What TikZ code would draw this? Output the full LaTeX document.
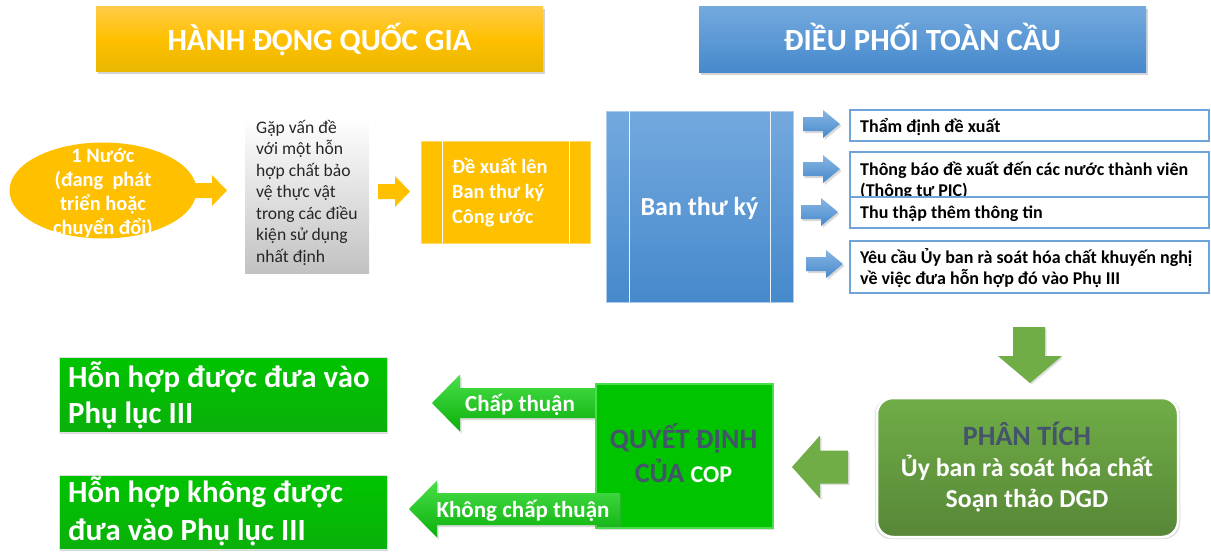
\documentclass[tikz,border=0pt]{standalone}
\usepackage{fontspec}
\setmainfont{Carlito}
\usetikzlibrary{shapes.geometric,shadows,calc}
\definecolor{gold}{HTML}{FFC000}
\definecolor{goldtop}{HTML}{FFCB48}
\definecolor{goldbot}{HTML}{E9B800}
\definecolor{bluetop}{HTML}{74A9DE}
\definecolor{bluebot}{HTML}{4689CC}
\definecolor{blueline}{HTML}{6FA4DA}
\definecolor{olive}{HTML}{70AD47}
\definecolor{bgreen}{HTML}{00C400}
\definecolor{bgreenlt}{HTML}{4ADF4A}
\definecolor{bgreendk}{HTML}{0AB00A}
\definecolor{slate}{HTML}{44546A}
\definecolor{inktext}{HTML}{262626}
\newcommand{\fs}[2]{\fontsize{#1}{#2}\selectfont}
% block arrow: style, tail, tip, shaft half width, head half width, signed head length
\newcommand{\barrow}[6]{%
  \path[#1] ($(#2)+(0,#4)$) -- ($(#3)+({-1*(#6)},#4)$) -- ($(#3)+({-1*(#6)},#5)$) -- (#3)
    -- ($(#3)+({-1*(#6)},-#5)$) -- ($(#3)+({-1*(#6)},-#4)$) -- ($(#2)+(0,-#4)$) -- cycle;}
\tikzset{
  box/.style={rectangle, inner sep=0pt, outer sep=0pt},
  hdrshadow/.style={drop shadow={shadow xshift=2pt, shadow yshift=-3pt, opacity=0.35}},
  yhead/.style={box, top color=goldtop, bottom color=goldbot, middle color=gold, hdrshadow},
  bhead/.style={box, top color=bluetop, bottom color=bluebot, hdrshadow},
  yarrow/.style={fill=gold},
  barrowst/.style={top color=bluetop!85!white, bottom color=bluebot, drop shadow={shadow xshift=1.5pt, shadow yshift=-2pt, opacity=0.3}},
  oarrow/.style={fill=olive, drop shadow={shadow xshift=1.5pt, shadow yshift=-1.5pt, opacity=0.25}},
  garrow/.style={top color=bgreenlt, bottom color=bgreendk, drop shadow={shadow xshift=1.5pt, shadow yshift=-2pt, opacity=0.3}},
  rbox/.style={box, draw=blueline, line width=1.1pt, fill=white},
  gbox/.style={box, top color=bgreen, bottom color=bgreendk, draw=black!12, line width=1pt, drop shadow={shadow xshift=1pt, shadow yshift=-2pt, opacity=0.3}},
  wtxt/.style={text=white, inner sep=0pt},
}
\begin{document}
\begin{tikzpicture}[x=1pt,y=-1pt]
\useasboundingbox (0,0) rectangle (1211,552);
% headers
\node[yhead, minimum width=447pt, minimum height=65pt] (h1) at (319.5,38.5) {};
\node[wtxt, anchor=base] (h1t) at (319.5,50) {\fs{30.8}{34}\bfseries HÀNH ĐỘNG QUỐC GIA};
\node[bhead, minimum width=447pt, minimum height=66pt] (h2) at (922.5,39) {};
\node[wtxt, anchor=base] (h2t) at (922.5,50) {\fs{30.8}{34}\bfseries ĐIỀU PHỐI TOÀN CẦU};
% country ellipse
\node[ellipse, fill=gold, inner sep=0pt, minimum width=187pt, minimum height=96pt] (ell) at (103,190.5) {};
\node[wtxt, anchor=base] (ellt) at (103,162) {\parbox[t]{180pt}{\leavevmode\centering\fs{20.4}{24}\bfseries 1 Nước\\(đang\ \ phát\\triển hoặc\\chuyển đổi)}};
% arrow 1
\coordinate (a1s) at (195,190.5); \coordinate (a1e) at (227,190.5);
\barrow{yarrow}{a1s}{a1e}{7.5}{15.5}{15}
% gray box
\node[box, top color=white, bottom color=black!24, minimum width=124pt, minimum height=155pt] (gray) at (307,195.5) {};
\node[inner sep=0pt, anchor=base west, text=inktext] (grayt) at (256,133) {\parbox[t]{130pt}{\raggedright\fs{17.6}{21.5}Gặp vấn đề\\với một hỗn\\hợp chất bảo\\vệ thực vật\\trong các điều\\kiện sử dụng\\nhất định}};
% arrow 2
\coordinate (a2s) at (378,191.5); \coordinate (a2e) at (410,191.5);
\barrow{yarrow}{a2s}{a2e}{7.5}{15.5}{15}
% proposal box
\node[box, fill=gold, draw=gold!60!white, line width=0.8pt, minimum width=169pt, minimum height=102pt] (yb) at (505.5,192) {};
\draw[white, line width=1pt] ($(yb.north west)+(21,0)$) -- ($(yb.south west)+(21,0)$);
\draw[white, line width=1pt] ($(yb.north east)+(-21,0)$) -- ($(yb.south east)+(-21,0)$);
\node[wtxt, anchor=base west] (ybt) at (452,173.5) {\parbox[t]{130pt}{\raggedright\fs{20.3}{25}\bfseries Đề xuất lên\\Ban thư ký\\Công ước}};
% secretariat box
\node[box, top color=bluetop, bottom color=bluebot, draw=bluetop!60!white, line width=0.8pt, minimum width=187pt, minimum height=191pt] (bb) at (699.5,206.5) {};
\draw[white!85!bluetop, line width=0.9pt] ($(bb.north west)+(23,0)$) -- ($(bb.south west)+(23,0)$);
\draw[white!85!bluetop, line width=0.9pt] ($(bb.north east)+(-23,0)$) -- ($(bb.south east)+(-23,0)$);
\node[wtxt, anchor=base] (bbt) at (699.5,215) {\fs{26}{30}\bfseries Ban thư ký};
% small blue arrows
\coordinate (b1s) at (803,124); \coordinate (b1e) at (840,124);
\coordinate (b2s) at (803,169); \coordinate (b2e) at (840,169);
\coordinate (b3s) at (801,212); \coordinate (b3e) at (838,212);
\coordinate (b4s) at (806,264); \coordinate (b4e) at (843,264);
\barrow{barrowst}{b1s}{b1e}{7}{14}{17}
\barrow{barrowst}{b2s}{b2e}{7}{14}{17}
\barrow{barrowst}{b3s}{b3e}{7}{14}{17}
\barrow{barrowst}{b4s}{b4e}{7}{14}{17}
% task boxes
\node[rbox, minimum width=359pt, minimum height=31pt] (r1) at (1029.5,125.5) {};
\node[inner sep=0pt, anchor=base west] (r1t) at (860,132) {\fs{18}{21}\bfseries Thẩm định đề xuất};
\node[rbox, minimum width=359pt, minimum height=45pt] (r2) at (1029.5,174.5) {};
\node[inner sep=0pt, anchor=base west] (r2t) at (860,175) {\parbox[t]{350pt}{\raggedright\fs{18}{21}\bfseries Thông báo đề xuất đến các nước thành viên\\(Thông tư PIC)}};
\node[rbox, minimum width=359pt, minimum height=31pt] (r3) at (1029.5,212.5) {};
\node[inner sep=0pt, anchor=base west] (r3t) at (860,218) {\fs{18}{21}\bfseries Thu thập thêm thông tin};
\node[rbox, minimum width=359pt, minimum height=52pt] (r4) at (1029.5,267) {};
\node[inner sep=0pt, anchor=base west] (r4t) at (860,263) {\parbox[t]{350pt}{\raggedright\fs{18}{21}\bfseries Yêu cầu Ủy ban rà soát hóa chất khuyến nghị\\về việc đưa hỗn hợp đó vào Phụ III}};
% down arrow
\coordinate (dtip) at (1030,383);
\path[oarrow] (1013,327) -- (1045,327) -- (1045,356) -- (1062,356) -- (dtip) -- (998,356) -- (1013,356) -- cycle;
% analysis box
\node[box, rounded corners=16pt, top color=olive, middle color=olive, bottom color=olive!78!black, draw=white, line width=2.5pt, minimum width=301pt, minimum height=139pt, drop shadow={shadow xshift=0pt, shadow yshift=-1pt, opacity=0.25, shadow scale=1.015}] (pt) at (1027.5,467.5) {};
\node[inner sep=0pt, anchor=base] (ptt) at (1027,445) {\parbox[t]{290pt}{\leavevmode\centering\bfseries\fs{28}{31}\textcolor{slate}{PHÂN TÍCH}\\\fs{25.8}{31}\textcolor{white}{Ủy ban rà soát hóa chất}\\\textcolor{white}{Soạn thảo DGD}}};
% left olive arrow
\coordinate (ls) at (848,467); \coordinate (le) at (792,467);
\barrow{oarrow}{ls}{le}{16.5}{31.5}{-28}
% approve arrow (behind COP box)
\coordinate (ca) at (597,403); \coordinate (cae) at (432,403);
\barrow{garrow}{ca}{cae}{15}{28.5}{-28}
% COP box
\node[box, fill=bgreen, draw=bgreenlt, line width=1.5pt, minimum width=177pt, minimum height=144pt, drop shadow={shadow xshift=1pt, shadow yshift=-2pt, opacity=0.25}] (cop) at (684.5,456) {};
\node[inner sep=0pt, anchor=base] (copt) at (683.5,448) {\parbox[t]{170pt}{\leavevmode\centering\bfseries\fs{28}{34}\textcolor{slate}{QUYẾT ĐỊNH}\\\textcolor{slate}{CỦA} \textcolor{white}{\fs{24}{34}COP}}};
\node[wtxt, anchor=base] (cat) at (520,411) {\fs{23}{24}\bfseries Chấp thuận};
% reject arrow (over COP box)
\coordinate (ra) at (620,509); \coordinate (rae) at (409,509);
\barrow{garrow}{ra}{rae}{16}{28.5}{-28}
\node[wtxt, anchor=base] (rat) at (523,517) {\fs{23}{24}\bfseries Không chấp thuận};
% result boxes
\node[gbox, minimum width=328pt, minimum height=75pt] (g1) at (223,394.5) {};
\node[wtxt, anchor=base west] (g1t) at (68,387) {\parbox[t]{320pt}{\raggedright\fs{30.8}{36}\bfseries Hỗn hợp được đưa vào\\Phụ lục III}};
\node[gbox, minimum width=328pt, minimum height=74pt] (g2) at (223,512) {};
\node[wtxt, anchor=base west] (g2t) at (68,502) {\parbox[t]{320pt}{\raggedright\fs{30.8}{38}\bfseries Hỗn hợp không được\\đưa vào Phụ lục III}};
\end{tikzpicture}
\end{document}
